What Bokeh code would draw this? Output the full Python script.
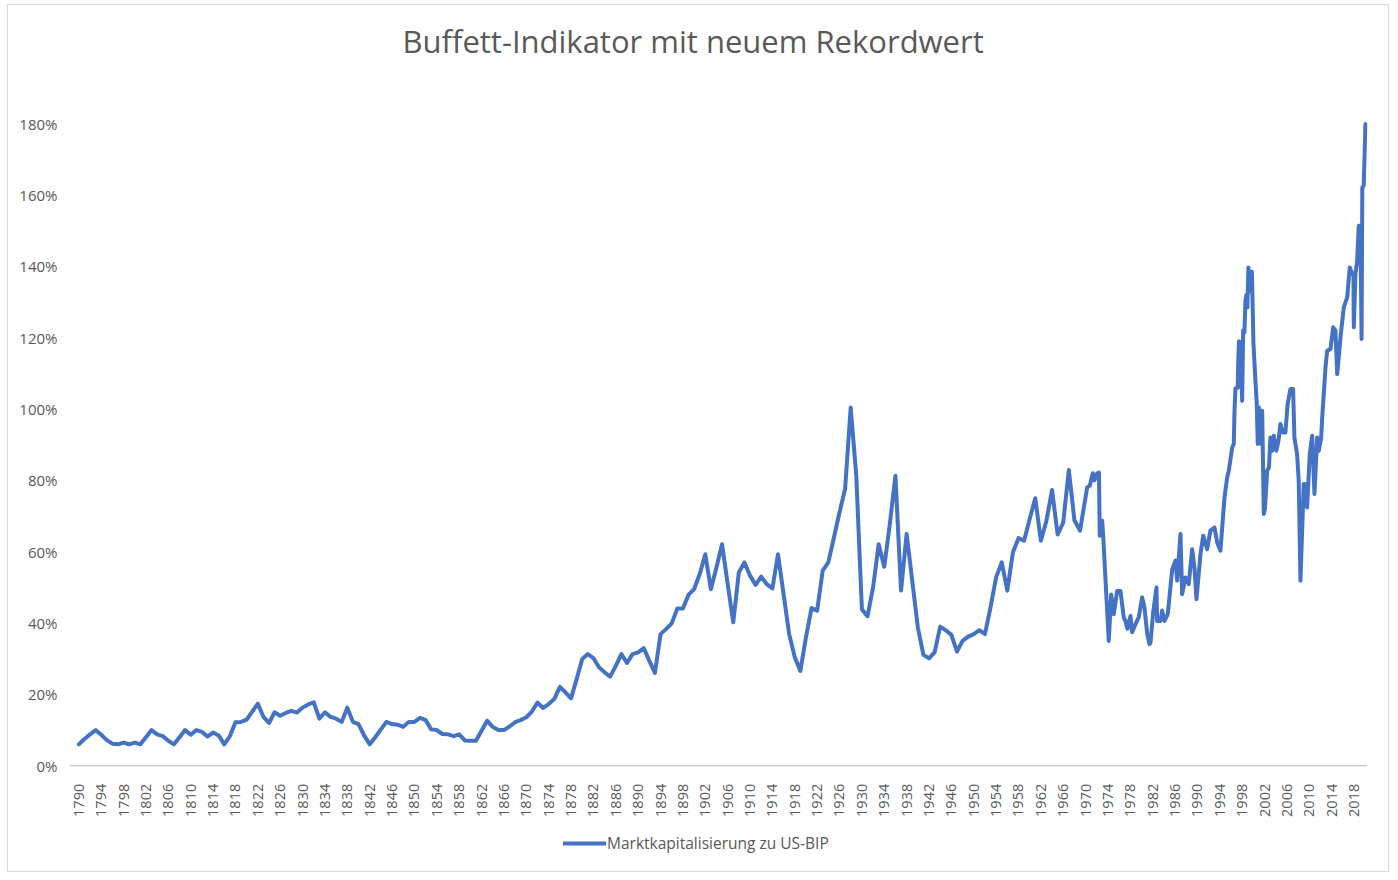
import math
from bokeh.plotting import figure
from bokeh.models import (Range1d, FixedTicker, PrintfTickFormatter, ColumnDataSource,
                          Legend, LegendItem, Title, Span)
from bokeh.embed import file_html
from bokeh.resources import INLINE

# ---------------- data (percent of US GDP) ----------------
annual_years = list(range(1790, 1970))
annual_values = [
    6, 7.5, 8.8, 10, 8.7, 7.2, 6.2, 6, 6.5, 6,                 # 1790s
    6.5, 6, 8, 10, 8.8, 8.3, 7, 6, 8, 10,                      # 1800s
    8.7, 10, 9.5, 8.2, 9.3, 8.5, 6, 8.3, 12.2, 12.3,           # 1810s
    12.9, 15.2, 17.4, 13.7, 12, 15, 14, 14.8, 15.4, 14.9,      # 1820s
    16.3, 17.2, 17.8, 13.2, 15, 13.7, 13.2, 12.3, 16.3, 12.3,  # 1830s
    11.7, 8.5, 6, 8, 10.2, 12.3, 11.7, 11.5, 10.9, 12.3,       # 1840s
    12.3, 13.4, 12.8, 10.2, 10, 8.9, 8.8, 8.3, 8.8, 7.1,       # 1850s
    7, 7, 9.8, 12.6, 10.9, 10, 10, 11, 12.2, 12.8,             # 1860s
    13.6, 15.2, 17.7, 16.2, 17.3, 18.7, 22.1, 20.6, 18.9, 24.3,  # 1870s
    29.9, 31.3, 30.2, 27.6, 26.2, 25, 28, 31.3, 28.8, 31.3,    # 1880s
    31.8, 33, 29.4, 26, 36.9, 38.3, 39.9, 44.1, 44.1, 47.9,    # 1890s
    49.5, 53.7, 59.3, 49.5, 55.6, 62.1, 51, 40.2, 54.2, 57,    # 1900s
    53.3, 50.7, 53, 50.9, 49.7, 59.3, 48.1, 36.9, 30.4, 26.6,  # 1910s
    36, 44.2, 43.5, 54.7, 57, 64, 71, 77.6, 100.4, 81.3,       # 1920s
    43.9, 41.9, 50, 62.1, 55.8, 67.8, 81.3, 49.1, 65, 51.9,    # 1930s
    38.8, 31.1, 30.1, 31.8, 39, 38, 36.7, 32, 35, 36.2,        # 1940s
    36.9, 38, 36.9, 44.4, 52.8, 57, 49.1, 59.8, 63.8, 63.1,    # 1950s
    69.2, 75, 63.1, 68.7, 77.3, 64.8, 68.2, 82.9, 68.8, 65.9,  # 1960s
]

# sub-annual observations from 1970 on (decimal year, percent)
recent_dates = [
    1970.28, 1970.74, 1971.28, 1971.58, 1972.07, 1972.39, 1972.53, 1972.96, 1973.14,
    1974.14, 1974.57, 1975.03, 1975.64, 1976.23, 1976.82, 1977.13, 1977.48, 1978.02,
    1978.32, 1978.91, 1979.50, 1980.11, 1980.52, 1981.01, 1981.42, 1981.60, 1982.08,
    1982.67, 1982.79, 1983.38, 1983.69, 1984.10, 1984.69, 1985.48, 1986.07, 1986.37,
    1986.96, 1987.26, 1987.85, 1988.44, 1989.05, 1989.46, 1989.82, 1990.54, 1991.02,
    1991.73, 1992.32, 1993.04, 1993.52, 1994.11, 1994.83, 1995.31, 1995.60, 1996.21,
    1996.49, 1996.61, 1996.79, 1997.20, 1997.29, 1997.42, 1997.68, 1997.99, 1998.17,
    1998.40, 1998.58, 1998.76, 1998.93, 1999.11, 1999.35, 1999.56, 1999.74, 2000.01,
    2000.36, 2000.60, 2000.78, 2000.96, 2001.14, 2001.39, 2001.57, 2001.86, 2002.07,
    2002.46, 2002.78, 2003.04, 2003.37, 2003.64, 2004.11, 2004.47, 2004.83, 2005.31,
    2005.72, 2006.13, 2006.61, 2007.10, 2007.33, 2007.81, 2008.10, 2008.27, 2008.41,
    2009.00, 2009.30, 2009.61, 2010.08, 2010.51, 2010.92, 2011.40, 2011.69, 2012.12,
    2012.30, 2012.89, 2013.19, 2013.78, 2014.26, 2014.67, 2014.98, 2015.26, 2015.57,
    2016.16, 2016.77, 2017.23, 2017.66, 2017.89, 2017.95, 2018.25, 2018.55, 2018.84,
    2019.13, 2019.34, 2019.47, 2019.72, 2020.03,
]
recent_values = [
    78, 78.5, 82, 80, 82, 82.2, 64.5, 68.7, 64.5,
    35, 48, 42.5, 49, 49, 41.6, 40.5, 38.4, 42,
    37.4, 39.7, 41.6, 47.2, 44.4, 37, 34.1, 34.5, 43,
    50, 40.6, 40.6, 43.5, 40.6, 42.5, 55, 57.5, 51.9,
    65, 48.1, 52.8, 50.9, 60.7, 55.6, 46.7, 59.3, 64.5,
    60.7, 65.9, 66.8, 62.6, 60.3, 75.2, 80.8, 82.7, 89.2,
    90.2, 98.7, 105.8, 106, 113.6, 119, 118.7, 102.3, 122,
    121.5, 130.4, 132, 128.5, 139.7, 133, 134, 138.5, 118.3,
    108, 101.5, 90.2, 100.5, 99.5, 90.2, 99.5, 70.6, 72,
    82.7, 83.6, 92, 88.3, 92.5, 88.3, 91, 95.8, 93.4,
    93.4, 101.4, 105.6, 105.6, 92, 87.4, 80, 65, 51.9,
    79, 79, 72.4, 87.4, 92.5, 76.2, 92, 88.3, 92,
    97.6, 111.7, 116.3, 116.8, 122.9, 122, 109.8, 114.5, 120.1,
    128.5, 131.3, 139.7, 137.8, 138, 122.9, 137.8, 141.6, 151.4,
    151.4, 119.6, 162.1, 162.6, 179.9,
]

x_tick_years = list(range(1790, 2019, 4))
y_tick_values = [0, 20, 40, 60, 80, 100, 120, 140, 160, 180]

series_label = "Marktkapitalisierung zu US-BIP"
title_text = "Buffett-Indikator mit neuem Rekordwert"

# ---------------- styling ----------------
LINE_COLOR = "#4472C4"
TEXT_COLOR = "#595959"
AXIS_COLOR = "#d0d0d0"
FONT = "Open Sans"

src = ColumnDataSource(data=dict(x=annual_years + recent_dates,
                                 y=annual_values + recent_values))

# plot frame extends below 0 % so that tick labels and legend sit inside it
p = figure(width=1382, height=868,
           x_range=Range1d(1788.33, 2020.4), y_range=Range1d(-28.8, 182),
           output_backend="svg", toolbar_location=None,
           min_border_left=61, min_border_right=23,
           min_border_top=111, min_border_bottom=5)
p.styles = {"border": "1px solid #d9d9d9", "margin-left": "7px", "margin-top": "4px"}
p.outline_line_color = None
p.background_fill_color = "white"
p.border_fill_color = "white"

# main title (outermost panel)
p.title = Title(text=title_text, align="left", offset=333, text_font=FONT,
                text_font_size="31px", text_font_style="normal",
                text_color=TEXT_COLOR, standoff=0)
# blank spacer panel between title and plot area
p.add_layout(Title(text=" ", text_font_size="36px", standoff=12), "above")

# category axis base line at 0 %
p.add_layout(Span(location=0, dimension="width", line_color=AXIS_COLOR,
                  line_width=1.5))

r = p.line(x="x", y="y", source=src, line_color=LINE_COLOR, line_width=4,
           line_join="round", line_cap="round")

p.xgrid.visible = False
p.ygrid.visible = False

xa = p.xaxis[0]
xa.fixed_location = 0
xa.ticker = FixedTicker(ticks=x_tick_years)
xa.major_label_orientation = math.pi / 2
xa.axis_line_color = None
xa.major_tick_line_color = None
xa.minor_tick_line_color = None
xa.major_label_text_font = FONT
xa.major_label_text_font_size = "14.5px"
xa.major_label_text_color = TEXT_COLOR
xa.major_label_standoff = 12

ya = p.yaxis[0]
ya.ticker = FixedTicker(ticks=y_tick_values)
ya.formatter = PrintfTickFormatter(format="%d%%")
ya.axis_line_color = None
ya.major_tick_line_color = None
ya.minor_tick_line_color = None
ya.major_label_text_font = FONT
ya.major_label_text_font_size = "15px"
ya.major_label_text_color = TEXT_COLOR
ya.major_label_standoff = 6

legend = Legend(items=[LegendItem(label=series_label, renderers=[r])],
                location=(494, 14), orientation="horizontal",
                glyph_width=43, glyph_height=16, label_standoff=1,
                padding=0, margin=0, border_line_color=None,
                background_fill_alpha=0,
                label_text_font=FONT, label_text_font_size="15.5px",
                label_text_color=TEXT_COLOR)
p.add_layout(legend)

open("out.html", "w").write(file_html(p, INLINE))
